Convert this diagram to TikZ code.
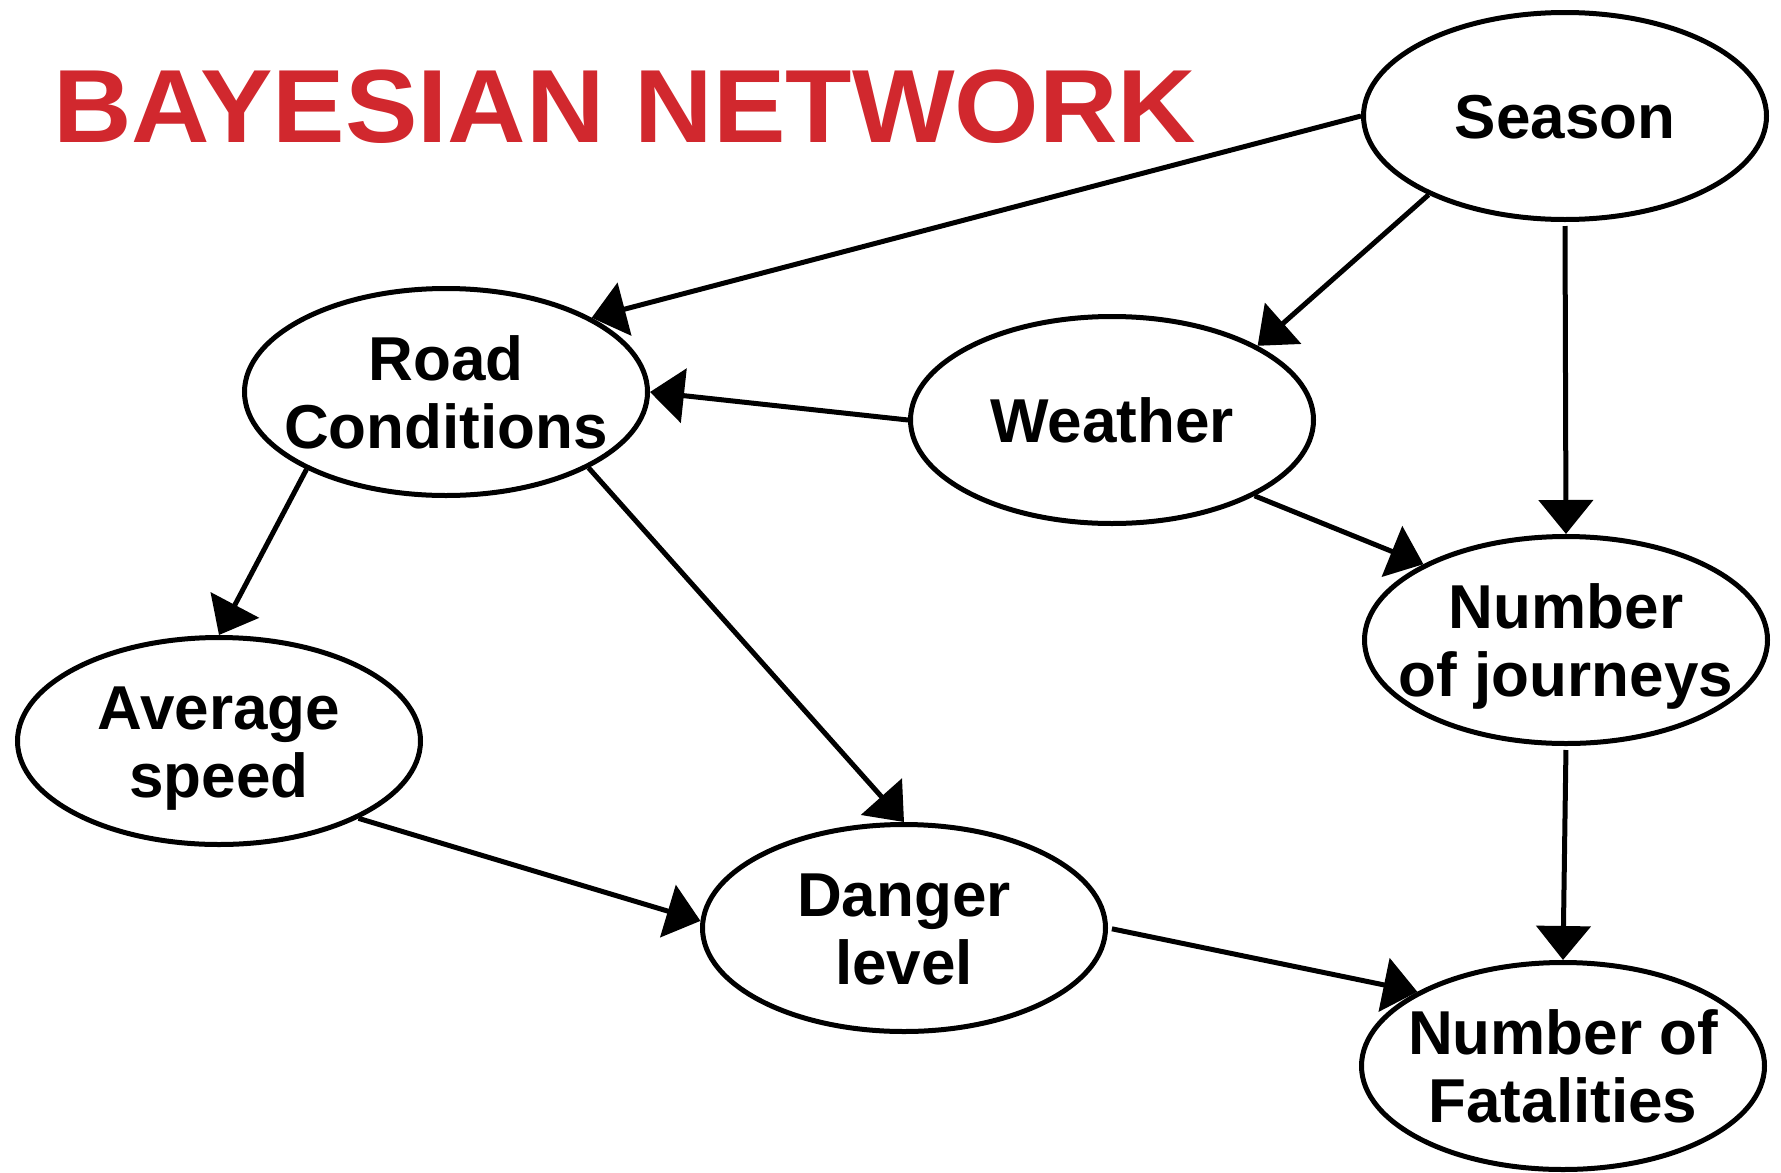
\documentclass[tikz,border=0pt]{standalone}
\usepackage{graphicx}
\usepackage{fontspec}
\setmainfont{Liberation Sans}
\usetikzlibrary{shapes.geometric, arrows.meta}

\definecolor{titlered}{HTML}{D1282E}

% one line of text, its baseline set below the node centre
\newcommand\onelabel[1]{\makebox[0pt]{\raisebox{-22pt}[0pt][0pt]{\makebox[0pt]{#1}}}}
% two centred lines of text about the node centre
\newcommand\twolabel[2]{\makebox[0pt]{%
  \raisebox{12pt}[0pt][0pt]{\makebox[0pt]{#1}}%
  \raisebox{-56pt}[0pt][0pt]{\makebox[0pt]{#2}}}}

\tikzset{
  bnnode/.style={ellipse, draw, line width=5pt, fill=white,
    minimum width=403pt, minimum height=207pt, inner sep=0pt,
    font=\bfseries\fontsize{62}{68}\selectfont},
  arr/.style={line width=5pt, -{Triangle[length=34pt,width=54pt]}},
  gap/.style={shorten <=4pt},
  titletext/.style={text=titlered, inner sep=0pt,
    font=\bfseries\fontsize{104}{114}\selectfont}
}

\begin{document}
\begin{tikzpicture}[x=1pt, y=-1pt]
  \fill[white] (0,0) rectangle (1781,1173);
  \useasboundingbox (0,0) rectangle (1781,1173);

  % heading
  \node[titletext, anchor=base west] (title) at (53,142)
    {\scalebox{1.045}[1]{BAYESIAN NETWORK}};

  % variables
  \node[bnnode] (season)   at (1565,116)  {\onelabel{Season}};
  \node[bnnode] (road)     at (446,392)   {\twolabel{Road}{Conditions}};
  \node[bnnode] (weather)  at (1112,420)  {\onelabel{Weather}};
  \node[bnnode] (journeys) at (1566,640)  {\twolabel{Number}{of journeys}};
  \node[bnnode] (speed)    at (219,741)   {\twolabel{Average}{speed}};
  \node[bnnode] (danger)   at (904,928)   {\twolabel{Danger}{level}};
  \node[bnnode] (fatal)    at (1563,1066) {\twolabel{Number of}{Fatalities}};

  % dependencies
  \draw[arr] (season.west) -- (road.27);
  \draw[arr] (season.210) -- (weather.27);
  \draw[arr] (weather.west) -- (road.east);
  \draw[arr, gap] (season.south) -- (journeys.north);
  \draw[arr] (weather.-28) -- (journeys.152);
  \draw[arr] (road.-151) -- (speed.north);
  \draw[arr] (road.-28) -- (danger.north);
  \draw[arr] (speed.-29) -- (danger.178);
  \draw[arr, gap] (journeys.south) -- (fatal.north);
  \draw[arr, gap] (danger.east) -- (fatal.153);
\end{tikzpicture}
\end{document}
